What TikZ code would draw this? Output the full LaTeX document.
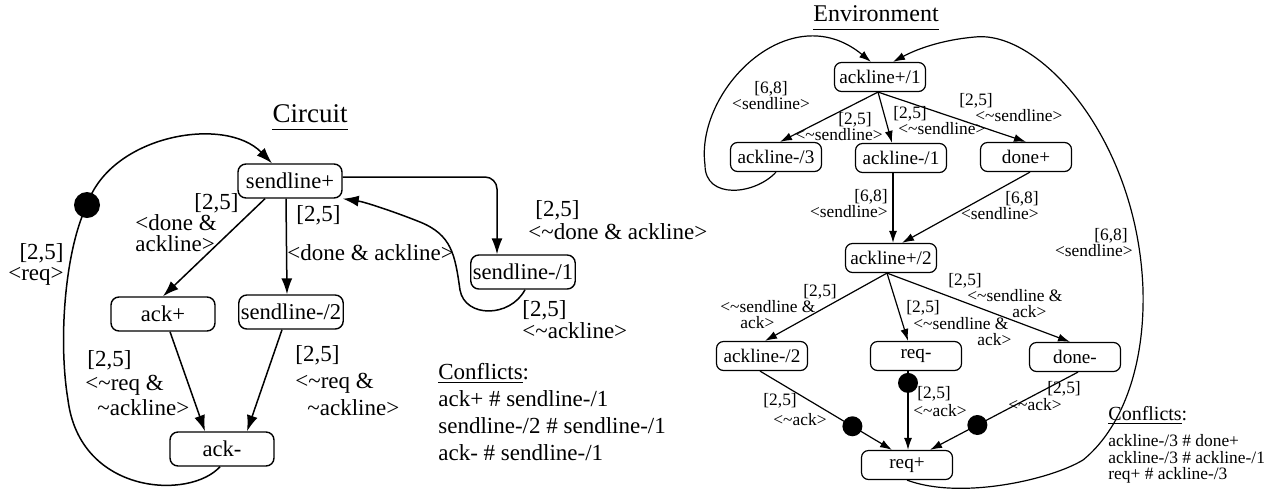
\documentclass[tikz,border=0pt]{standalone}
\usepackage{fontspec}
\setmainfont{Liberation Serif}
\usetikzlibrary{arrows.meta,positioning}
\newcommand{\tld}{\textasciitilde}

\begin{document}
\begin{tikzpicture}[x=0.5pt, y=-0.5pt,
    >={Latex[length=8pt,width=5.5pt]},
    cstate/.style={draw, rounded corners=4pt, line width=0.7pt, minimum width=52pt, minimum height=17pt, inner sep=1pt, font=\fontsize{11.3}{13}\selectfont},
    estate/.style={draw, rounded corners=3.5pt, line width=0.6pt, minimum width=45.5pt, minimum height=14.5pt, inner sep=1pt, font=\fontsize{9.6}{11}\selectfont},
    clabel/.style={inner sep=0pt, font={\fontsize{11.5}{10.5}\selectfont\lineskiplimit=-20pt}},
    elabel/.style={inner sep=0pt, font={\fontsize{8.7}{8}\selectfont\lineskiplimit=-20pt}},
    carrow/.style={->, line width=0.75pt},
    earrow/.style={-{Latex[length=6pt,width=4pt]}, line width=0.6pt},
    cdot/.style={circle, fill, inner sep=0pt, minimum size=13pt},
    edot/.style={circle, fill, inner sep=0pt, minimum size=10pt}]
    \useasboundingbox (0,0) rectangle (1273,488);

    % Circuit
    \node[clabel, font=\fontsize{13.5}{15}\selectfont] (ctitle) at (310,114) {Circuit};
    \draw[line width=0.6pt] ([yshift=-3pt]ctitle.south west) -- ([yshift=-3pt]ctitle.south east);

    \node[cstate] (cplus) at (290,181) {sendline+};
    \node[cstate] (ackp) at (163,314) {ack+};
    \node[cstate] (csl2) at (291,312) {sendline-/2};
    \node[cstate] (ackm) at (222,449) {ack-};
    \node[cstate] (csl1) at (523,272) {sendline-/1};

    \draw[carrow] ([xshift=-12.5pt]cplus.south) -- (ackp.north);
    \draw[carrow] ([xshift=-2pt]cplus.south) -- ([xshift=-2pt]csl2.north);
    \draw[carrow, rounded corners=6pt] ([yshift=2pt]cplus.east) -| ([xshift=-13pt]csl1.north);
    \draw[carrow] ([xshift=1pt]csl1.south) .. controls (510,318) and (465,318) .. (460,290)
        .. controls (455,255) and (452,235) .. (420,222) .. controls (395,212) and (365,202) .. (cplus.south east);
    \draw[carrow] ([xshift=3.5pt]ackp.south) -- ([xshift=-8.5pt]ackm.north);
    \draw[carrow] ([xshift=-4.5pt]csl2.south) -- ([xshift=12.5pt]ackm.north);
    \draw[carrow] ([xshift=-1pt]ackm.south) .. controls (190,500) and (80,495) .. (68,400)
        .. controls (58,340) and (65,250) .. (87,205) node[cdot] (cdt) {}
        .. controls (110,135) and (225,115) .. ([xshift=-9pt]cplus.north);

    \node[clabel, align=left, anchor=north west] (l1) at (135,193) {\hspace*{29.5pt}[2,5]\\<done \&\\ackline>};
    \node[clabel, align=left, anchor=north west] (l2) at (287,205) {\hspace*{4.5pt}[2,5]\\[9pt]<done \& ackline>};
    \node[clabel, align=left, anchor=north west] (l3) at (528,200) {\hspace*{3.5pt}[2,5]\\[1pt]<\tld done \& ackline>};
    \node[clabel, align=left, anchor=north west] (l4) at (522,300) {[2,5]\\[0.5pt]<\tld ackline>};
    \node[clabel, align=left, anchor=north west] (l5) at (85,350) {\hspace*{1pt}[2,5]\\[1.75pt]<\tld req \&\\[1.75pt]\hspace*{6pt}\tld ackline>};
    \node[clabel, align=left, anchor=north west] (l6) at (295,345) {[2,5]\\[3pt]<\tld req \&\\[3pt]\hspace*{6pt}\tld ackline>};
    \node[clabel, align=right, anchor=north east] (l7) at (64,243) {[2,5]\\<req>};

    \node[clabel, font=\fontsize{11.5}{13.5}\selectfont, align=left, anchor=north west] (cconf) at (438,363)
        {\underline{Conflicts}:\\ack+ \# sendline-/1\\sendline-/2 \# sendline-/1\\ack- \# sendline-/1};

    % Environment
    \node[clabel, font=\fontsize{12}{14}\selectfont] (etitle) at (876,14) {Environment};
    \draw[line width=0.6pt] ([yshift=-3.5pt]etitle.south west) -- ([yshift=-3.5pt]etitle.south east);

    \node[estate] (ep1) at (880,77) {ackline+/1};
    \node[estate] (em3) at (776,157) {ackline-/3};
    \node[estate] (em1) at (901,158) {ackline-/1};
    \node[estate] (dplus) at (1026,157) {done+};
    \node[estate] (ep2) at (891,258) {ackline+/2};
    \node[estate] (em2) at (762,356) {ackline-/2};
    \node[estate] (reqm) at (916,356) {req-};
    \node[estate] (dminus) at (1075,357) {done-};
    \node[estate] (reqp) at (907,465) {req+};

    \draw[earrow] ([xshift=-1pt]ep1.south) -- ([xshift=2pt]em3.north);
    \draw[earrow] ([xshift=-1pt]ep1.south) -- ([xshift=-4.5pt]em1.north);
    \draw[earrow] ([xshift=-1pt]ep1.south) -- (dplus.north);
    \draw[earrow] ([xshift=-4pt]em1.south) -- ([xshift=1pt]ep2.north);
    \draw[earrow] ([xshift=2pt]dplus.south) -- ([xshift=5.5pt]ep2.north);
    \draw[earrow] (em3.south) .. controls (755,195) and (705,200) .. (705,165)
        .. controls (695,90) and (790,-5) .. ([xshift=-4.5pt]ep1.north);
    \draw[earrow] (reqp.south) .. controls (960,500) and (1050,480) .. (1083,460)
        .. controls (1120,430) and (1145,370) .. (1143,290)
        .. controls (1138,140) and (1040,30) .. (975,37)
        .. controls (940,40) and (915,50) .. ([xshift=6.5pt]ep1.north);
    \draw[earrow] ([xshift=-2pt]ep2.south) -- ([xshift=1.5pt]em2.north);
    \draw[earrow] ([xshift=-2pt]ep2.south) -- ([xshift=-4pt]reqm.north);
    \draw[earrow] ([xshift=-2pt]ep2.south) -- ([xshift=-2.5pt]dminus.north);
    \draw[earrow] ([xshift=-1pt]em2.south) -- node[edot, pos=0.7] (dk) {} ([xshift=-7.5pt]reqp.north);
    \draw[earrow] ([xshift=-4pt]reqm.south) -- node[edot, pos=0.15] (dl) {} ([xshift=0.5pt]reqp.north);
    \draw[earrow] ([xshift=1.5pt]dminus.south) -- node[edot, pos=0.68] (dm) {} ([xshift=11.5pt]reqp.north);

    \node[elabel, align=right, anchor=north east] (la) at (883,112) {[2,5]\hspace*{5.5pt}\\<\tld sendline>};
    \node[elabel, align=left, anchor=north west] (lb) at (893,106) {[2,5]\\\hspace*{2.5pt}<\tld sendline>};
    \node[elabel, align=left, anchor=north west] (lc) at (959,93) {[2,5]\\\hspace*{8pt}<\tld sendline>};
    \node[elabel, align=right, anchor=north east] (ld) at (888,189) {[6,8]\\<sendline>};
    \node[elabel, align=right, anchor=north east] (le) at (1039,191) {[6,8]\\<sendline>};
    \node[elabel, align=center, anchor=north] (lf) at (771,81) {[6,8]\\<sendline>};
    \node[elabel, align=right, anchor=north east] (lg) at (1133,228) {[6,8]\hspace*{2.5pt}\\<sendline>};
    \node[elabel, align=left, anchor=north west] (lh) at (720,284) {\hspace*{41.5pt}[2,5]\\<\tld sendline \&\\\hspace*{10pt}ack>};
    \node[elabel, align=left, anchor=north west] (li) at (906,300) {[2,5]\\[0.5pt]\hspace*{3.5pt}<\tld sendline \&\\\hspace*{35.5pt}ack>};
    \node[elabel, align=left, anchor=north west] (lj) at (948,273) {[2,5]\\\hspace*{9.5pt}<\tld sendline \&\\\hspace*{32pt}ack>};
    \node[elabel, align=left, anchor=north west] (lk) at (763,393) {[2,5]\\[2pt]\hspace*{5pt}<\tld ack>};
    \node[elabel, align=left, anchor=north west] (ll) at (913,386) {\hspace*{2pt}[2,5]\\[1pt]<\tld ack>};
    \node[elabel, align=left, anchor=north west] (lm) at (1008,381) {\hspace*{19.5pt}[2,5]\\[0.5pt]<\tld ack>};

    \node[elabel, font=\fontsize{8.7}{8.25}\selectfont, align=left, anchor=north west] (econf) at (1108,406)
        {{\fontsize{10}{8.25}\selectfont\underline{Conflicts}:}\\[5pt]ackline-/3 \# done+\\ackline-/3 \# ackline-/1\\req+ \# ackline-/3};
\end{tikzpicture}
\end{document}
